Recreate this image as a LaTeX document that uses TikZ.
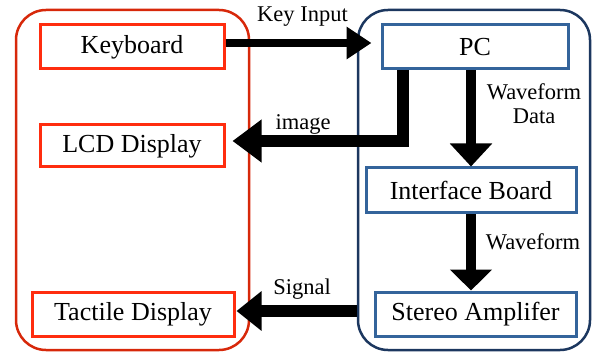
\documentclass[tikz,border=0pt]{standalone}
\usepackage{fontspec}
\setmainfont{Liberation Serif}
\usetikzlibrary{arrows.meta,calc}
\definecolor{grpred}{RGB}{215,40,10}
\definecolor{boxred}{RGB}{255,45,15}
\definecolor{grpblue}{RGB}{28,55,95}
\definecolor{boxblue}{RGB}{52,100,155}
\tikzset{
  grpL/.style={draw=grpred, line width=2.5pt, rounded corners=30pt, minimum width=233pt, minimum height=340pt, inner sep=0pt},
  grpR/.style={draw=grpblue, line width=2.5pt, rounded corners=30pt, minimum width=232pt, minimum height=340pt, inner sep=0pt},
  redbox/.style={draw=boxred, line width=3pt, fill=white, inner sep=0pt, font=\fontsize{26}{28}\selectfont},
  bluebox/.style={draw=boxblue, line width=3pt, fill=white, inner sep=0pt, font=\fontsize{26}{28}\selectfont},
  lbl/.style={inner sep=0pt, font=\fontsize{22.5}{26}\selectfont, align=center},
  fat/.style={draw=black, line join=miter}
}
\begin{document}
\begin{tikzpicture}[x=1pt,y=-1pt]
\useasboundingbox (0,0) rectangle (593,352);
% groups
\node[grpL] (Lgrp) at (132.5,180) {};
\node[grpR] (Rgrp) at (474,180) {};
% boxes
\node[redbox, minimum width=184pt, minimum height=44pt] (Keyboard) at (132,47) {Keyboard};
\node[redbox, minimum width=184pt, minimum height=42pt] (LCD) at (132,146) {LCD Display};
\node[redbox, minimum width=202pt, minimum height=44pt] (Tactile) at (133,314) {Tactile Display};
\node[bluebox, minimum width=186pt, minimum height=44pt] (PC) at (475,47) {PC};
\node[bluebox, minimum width=210pt, minimum height=45pt] (Interface) at (471,190.5) {Interface Board};
\node[bluebox, minimum width=201pt, minimum height=44pt] (Stereo) at (475.5,314) {Stereo Amplifer};
% connectors
\draw[fat, line width=7.5pt, -{Triangle[length=25pt,width=31pt]}]
  ($(Keyboard.east)+(0,-4)$) -- ($(PC.west)+(-9,-4)$);
\draw[fat, line width=12pt, -{Triangle[length=29pt,width=41pt]}]
  ($(PC.south)+(-72,0)$) |- ($(LCD.east)+(7,-5)$);
\draw[fat, line width=10pt, -{Triangle[length=23pt,width=41pt]}]
  (PC.south -| Interface.north) -- (Interface.north);
\draw[fat, line width=10pt, -{Triangle[length=21pt,width=41pt]}]
  (Interface.south) -- (Interface.south |- Stereo.north);
\draw[fat, line width=12pt, -{Triangle[length=25pt,width=38pt]}]
  ($(Tactile.east -| Rgrp.west)+(0,-3)$) -- ($(Tactile.east)+(1,-3)$);
% labels
\node[lbl] (lKey) at (302.5,17) {Key Input};
\node[lbl] (lImg) at (303,124) {image};
\node[lbl] (lWD) at (534,104) {Waveform\\[-2pt]Data};
\node[lbl] (lW) at (533,242) {Waveform};
\node[lbl] (lSig) at (302,289) {Signal};
\end{tikzpicture}
\end{document}
